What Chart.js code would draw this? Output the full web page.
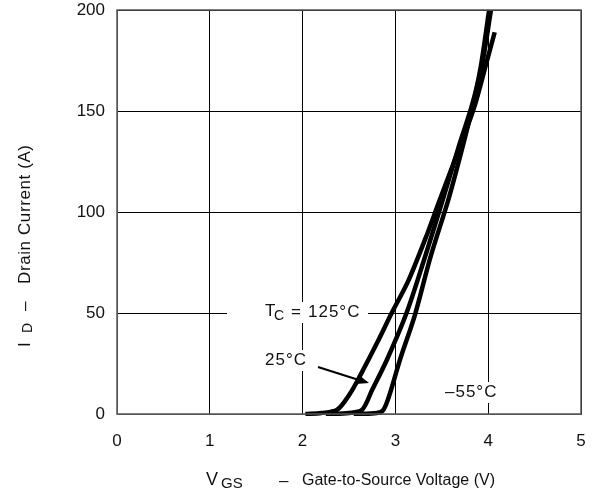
<!DOCTYPE html>
<html>
<head>
  <title>Transfer Characteristics</title>
  <script src="https://cdn.jsdelivr.net/npm/chart.js"></script>
</head>
<body style="margin: 0; background: white;">
  <canvas id="transferChart" width="595" height="495"></canvas>
  <script>
    // values: V_GS (V) and I_D (A) per case temperature
    const vgs125 = [2.03, 2.20, 2.37, 2.51, 2.62, 2.80, 2.96, 3.14, 3.35, 3.47, 3.70, 3.85, 3.97, 4.07];
    const id125  = [0, 0.5, 2, 10, 19, 35, 50, 66, 90, 105, 133, 152, 172, 189];
    const vgs25  = [2.25, 2.50, 2.64, 2.75, 2.91, 3.12, 3.30, 3.51, 3.68, 3.82, 3.93, 4.03];
    const id25   = [0, 0.5, 2, 12, 27, 50, 75, 106, 132, 152, 172, 200];
    const vgsM55 = [2.55, 2.80, 2.87, 2.94, 3.05, 3.21, 3.38, 3.57, 3.70, 3.82, 3.92, 4.01];
    const idM55  = [0, 0.5, 2, 10, 27, 49, 78, 106, 128, 150, 172, 200];
    const xTicks = [0, 1, 2, 3, 4, 5];
    const yTicks = [0, 50, 100, 150, 200];

    const pts = (xs, ys) => xs.map((x, i) => ({ x: x, y: ys[i] }));
    const FONT = '"Liberation Sans", Arial, sans-serif';

    // draw one piece of text, left aligned, vertically centred on y
    function txt(ctx, s, x, y, size, spacing) {
      ctx.font = size + 'px ' + FONT;
      ctx.letterSpacing = (spacing || 0) + 'px';
      ctx.fillText(s, x, y);
      return ctx.measureText(s).width;
    }

    function whiteBox(ctx, x, y, w, h) {
      ctx.fillStyle = 'white';
      ctx.fillRect(x, y, w, h);
      ctx.fillStyle = '#111';
    }

    const annotations = {
      id: 'annotations',
      beforeDatasetsDraw(chart) {
        const ctx = chart.ctx;
        ctx.save();
        ctx.textBaseline = 'middle';
        // curve labels
        whiteBox(ctx, 227, 302, 141, 21);
        txt(ctx, 'T', 265, 311, 17);
        txt(ctx, 'C', 274, 316, 14);
        txt(ctx, '=', 291, 312, 17);
        txt(ctx, '125\u00B0C', 308, 312, 17, 1);
        whiteBox(ctx, 262, 350, 50, 21);
        txt(ctx, '25\u00B0C', 265, 360, 17, 1);
        whiteBox(ctx, 442, 382, 60, 21);
        txt(ctx, '\u201355\u00B0C', 445, 392, 17, 1);
        // arrow to the 25°C curve
        ctx.strokeStyle = '#000';
        ctx.lineWidth = 2;
        ctx.beginPath();
        ctx.moveTo(318, 367);
        ctx.lineTo(362, 381);
        ctx.stroke();
        ctx.beginPath();
        ctx.moveTo(369, 383);
        ctx.lineTo(356, 384);
        ctx.lineTo(359, 375);
        ctx.closePath();
        ctx.fillStyle = '#000';
        ctx.fill();
        ctx.restore();
      },
      afterDraw(chart) {
        const ctx = chart.ctx;
        const a = chart.chartArea;
        ctx.save();
        ctx.strokeStyle = '#555';
        ctx.lineWidth = 1.5;
        ctx.strokeRect(a.left, a.top, a.right - a.left, a.bottom - a.top);
        ctx.fillStyle = '#111';
        ctx.textBaseline = 'middle';
        // x axis title
        txt(ctx, 'V', 206, 480, 18);
        txt(ctx, 'GS', 221, 484, 15);
        txt(ctx, '\u2013', 279, 481, 17);
        txt(ctx, 'Gate-to-Source Voltage (V)', 302, 481, 16);
        // y axis title
        ctx.translate(25, 0);
        ctx.rotate(-Math.PI / 2);
        txt(ctx, 'I', -347, 0, 17);
        txt(ctx, 'D', -333, 3, 14);
        txt(ctx, '\u2013', -311, 0, 17);
        txt(ctx, 'Drain Current (A)', -284, 0, 17, 0.6);
        ctx.restore();
      }
    };

    const line = (data) => ({
      data: data,
      borderColor: '#000',
      borderWidth: 4.5,
      pointRadius: 0,
      fill: false,
      tension: 0.3,
      borderCapStyle: 'butt'
    });

    new Chart(document.getElementById('transferChart').getContext('2d'), {
      type: 'line',
      data: {
        datasets: [
          line(pts(vgs125, id125)),
          line(pts(vgs25, id25)),
          line(pts(vgsM55, idM55))
        ]
      },
      options: {
        responsive: false,
        animation: false,
        clip: 2,
        layout: { padding: { top: 10, right: 14, left: 0, bottom: 0 } },
        plugins: { legend: { display: false }, tooltip: { enabled: false } },
        scales: {
          x: {
            type: 'linear',
            min: 0, max: 5,
            afterFit: s => { s.height = 81; s.paddingLeft = 0; s.paddingRight = 0; },
            afterBuildTicks: s => { s.ticks = xTicks.map(v => ({ value: v })); },
            grid: { color: '#000', lineWidth: 1, drawTicks: false },
            border: { color: '#555' },
            ticks: { color: '#111', font: { family: FONT, size: 17 }, padding: 17 }
          },
          y: {
            type: 'linear',
            min: 0, max: 200,
            afterFit: s => { s.width = 117; s.paddingTop = 0; s.paddingBottom = 0; },
            afterBuildTicks: s => { s.ticks = yTicks.map(v => ({ value: v })); },
            grid: { color: '#000', lineWidth: 1, drawTicks: false },
            border: { color: '#555' },
            ticks: { color: '#111', font: { family: FONT, size: 17 }, padding: 12 }
          }
        }
      },
      plugins: [annotations]
    });
  </script>
</body>
</html>
